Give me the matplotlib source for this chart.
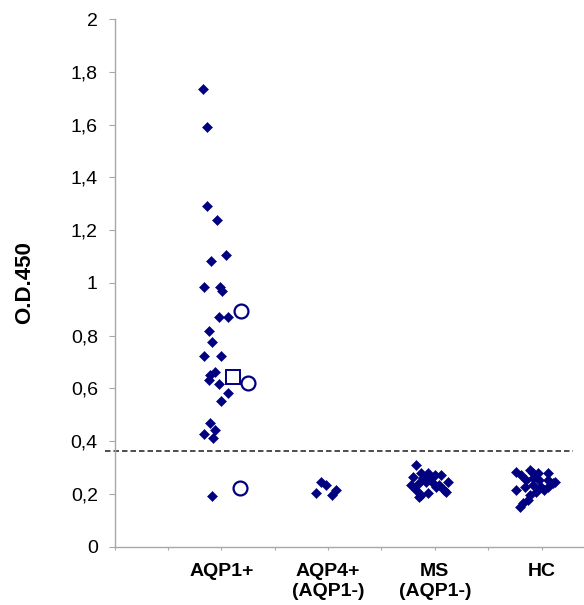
import matplotlib
matplotlib.use('Agg')
import matplotlib.pyplot as plt

plt.rcParams['font.family'] = ['Liberation Sans', 'DejaVu Sans']

# ---- data ----
categories = ['AQP1+', 'AQP4+\n(AQP1-)', 'MS\n(AQP1-)', 'HC']
category_pos = [1, 2, 3, 4]
yticks = [0, 0.2, 0.4, 0.6, 0.8, 1.0, 1.2, 1.4, 1.6, 1.8, 2.0]
ytick_labels = ['0', '0,2', '0,4', '0,6', '0,8', '1', '1,2', '1,4', '1,6', '1,8', '2']
cutoff = 0.364

aqp1_x = [0.826, 0.868, 0.868, 0.962, 1.040, 0.906, 0.843, 0.984, 1.005, 0.977,
          1.061, 0.883, 0.911, 0.843, 1.000, 0.937, 0.899, 0.883, 0.977, 1.061,
          1.000, 0.890, 0.946, 0.843, 0.921, 0.915]
aqp1_y = [1.733, 1.591, 1.290, 1.239, 1.105, 1.084, 0.984, 0.986, 0.970, 0.870,
          0.870, 0.816, 0.774, 0.723, 0.723, 0.664, 0.651, 0.632, 0.616, 0.582,
          0.553, 0.470, 0.443, 0.428, 0.411, 0.192]

circle_x = [1.187, 1.255, 1.180]
circle_y = [0.895, 0.622, 0.224]
square_x = [1.108]
square_y = [0.643]

aqp4_x = [1.936, 1.983, 1.889, 2.077, 2.039]
aqp4_y = [0.247, 0.234, 0.203, 0.215, 0.196]

ms_x = [2.820, 2.794, 2.873, 2.935, 2.998, 3.060, 3.122, 2.779, 2.857, 2.920,
        2.982, 3.044, 3.091, 2.826, 2.873, 2.935, 3.013, 2.951, 2.888, 3.107, 2.857]
ms_y = [0.310, 0.266, 0.278, 0.278, 0.272, 0.272, 0.247, 0.234, 0.240, 0.247,
        0.240, 0.234, 0.215, 0.215, 0.196, 0.202, 0.228, 0.260, 0.260, 0.209, 0.190]

hc_x = [3.763, 3.888, 3.965, 4.059, 3.810, 4.122, 4.059, 3.981, 3.919, 3.857,
        3.763, 3.841, 3.919, 3.997, 4.059, 4.028, 3.950, 3.888, 3.872, 3.825,
        3.794, 4.106, 3.919]
hc_y = [0.285, 0.291, 0.278, 0.278, 0.272, 0.247, 0.253, 0.253, 0.260, 0.253,
        0.215, 0.228, 0.234, 0.228, 0.228, 0.215, 0.209, 0.196, 0.177, 0.164,
        0.152, 0.240, 0.278]

navy = '#000080'

fig = plt.figure(figsize=(5.84, 6.05), dpi=100)
W, H = 584, 605
ax = fig.add_axes([114.5 / W, 58.3 / H, (W - 114.5) / W, (546.7 - 19) / H])

ax.set_ylim(0, 2)
ax.set_xlim(0, (W - 114.5) / 106.75)

# threshold line
ax.plot([-0.089, 4.295], [cutoff, cutoff], ls=(0, (3.3, 1.8)), color='#303030',
        lw=1.2, clip_on=False, zorder=2)

dkw = dict(marker='D', ms=5.5, color=navy, ls='none', mec=navy, mew=0.4, zorder=3)
for xs, ys in [(aqp1_x, aqp1_y), (aqp4_x, aqp4_y), (ms_x, ms_y), (hc_x, hc_y)]:
    ax.plot(xs, ys, **dkw)
ax.plot(circle_x, circle_y, marker='o', ms=10, mfc='white', mec=navy, mew=1.6,
        ls='none', zorder=4)
ax.plot(square_x, square_y, marker='s', ms=9.5, mfc='white', mec=navy, mew=1.4,
        ls='none', zorder=4)

# spines
for s in ['top', 'right']:
    ax.spines[s].set_visible(False)
for s in ['left', 'bottom']:
    ax.spines[s].set_color('#a8a8a8')
    ax.spines[s].set_linewidth(1.0)

ax.set_yticks(yticks)
ax.set_yticklabels(ytick_labels)
ax.tick_params(axis='y', length=4, width=0.8, color='#a8a8a8', pad=8,
               labelsize=14, labelcolor='black')

xt = [i * 0.5 for i in range(9)]
ax.set_xticks(xt)
ax.set_xticklabels([''] * len(xt))
ax.tick_params(axis='x', length=2, width=0.8, color='#a8a8a8')
for p, lab in zip(category_pos, categories):
    ax.text(p, -0.06, lab, ha='center', va='top', fontsize=14,
            fontweight='bold', linespacing=1.25, transform=ax.transData)

ax.set_ylabel('O.D.450', fontsize=16, fontweight='bold')
ax.yaxis.label.set_verticalalignment('center')
ax.yaxis.set_label_coords((25 - 114.5) / (W - 114.5), 0.5)

fig.savefig('out.png', dpi=100)
